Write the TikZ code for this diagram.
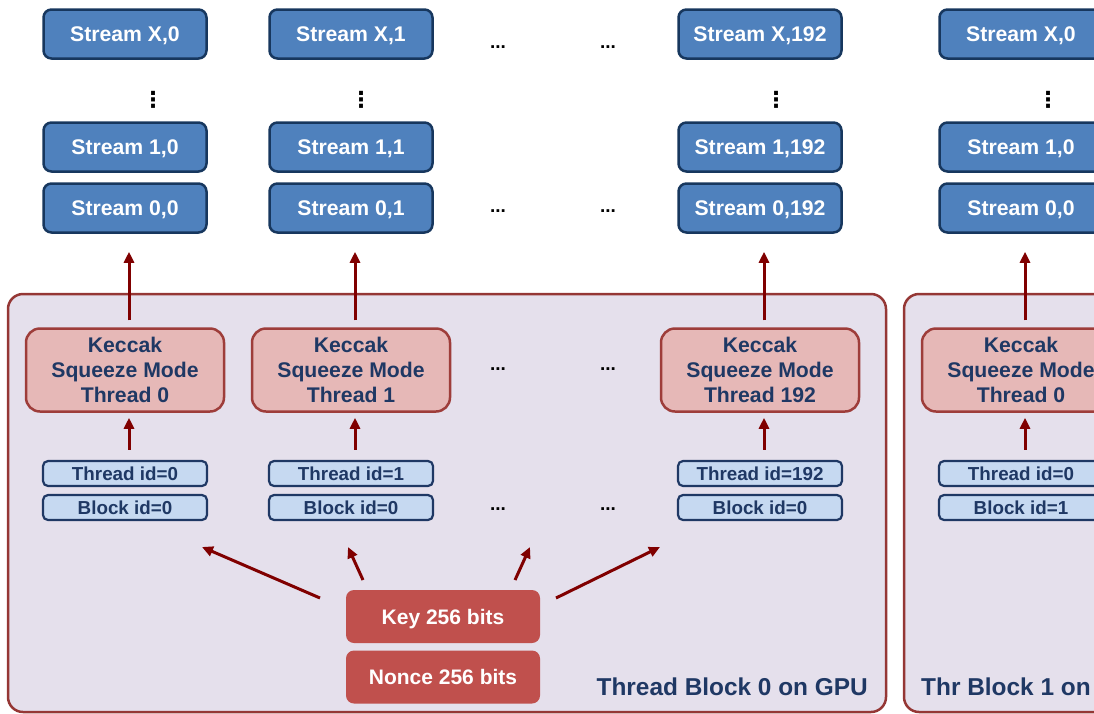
\documentclass[tikz,border=0pt]{standalone}
\usepackage{fontspec}
\setmainfont{Liberation Sans}
\newfontfamily\symfont{DejaVu Sans}
\usetikzlibrary{arrows.meta}
\usetikzlibrary{positioning}
\definecolor{streamfill}{HTML}{4F81BD}
\definecolor{streamline}{HTML}{17375E}
\definecolor{kecfill}{HTML}{E6B8B7}
\definecolor{kecline}{HTML}{9E3D3A}
\definecolor{idfill}{HTML}{C6D9F1}
\definecolor{navy}{HTML}{1F3864}
\definecolor{keyfill}{HTML}{C0504D}
\definecolor{blockfill}{HTML}{E5E0EC}
\definecolor{blockline}{HTML}{953735}
\definecolor{arrred}{HTML}{800000}

\tikzset{
  stream/.style={draw=streamline, line width=2.5pt, fill=streamfill, rounded corners=8pt,
    minimum width=163pt, minimum height=49pt, inner sep=0pt, text=white, text depth=0pt,
    font=\fontsize{21.2}{24}\selectfont\bfseries},
  keccak/.style={draw=kecline, line width=2.5pt, fill=kecfill, rounded corners=14pt,
    minimum width=198pt, minimum height=83pt, inner sep=0pt, text=navy, align=center,
    font=\fontsize{21.2}{25}\selectfont\bfseries},
  idbox/.style={draw=navy, line width=2.2pt, fill=idfill, rounded corners=5pt,
    minimum width=164pt, minimum height=25pt, inner sep=0pt, text=navy, text depth=0pt,
    font=\fontsize{18.8}{20}\selectfont\bfseries},
  keybox/.style={fill=keyfill, rounded corners=8pt, minimum width=194pt, minimum height=53pt,
    inner sep=0pt, text=white, text depth=0pt, font=\fontsize{21}{24}\selectfont\bfseries},
  blockarea/.style={draw=blockline, line width=2.5pt, fill=blockfill, rounded corners=15pt},
  blocklabel/.style={text=navy, inner sep=0pt, font=\fontsize{24.4}{26}\selectfont\bfseries},
  hdots/.style={inner sep=0pt, font=\fontsize{19}{20}\selectfont\bfseries},
  vdots/.style={inner sep=0pt, font=\symfont\fontsize{22}{24}\selectfont\bfseries},
  arr/.style={draw=arrred, line width=3pt, -{Triangle[length=11pt,width=10pt]}}
}

\begin{document}
\begin{tikzpicture}[x=1pt, y=-1pt]
  \useasboundingbox (0,0) rectangle (1094,713);
  \clip (0,0) rectangle (1094,713);

  % thread blocks
  \draw[blockarea] (8,294) rectangle (886,712);
  \draw[blockarea] (904,294) rectangle (1130,712);
  \node[blocklabel, anchor=east] (lbl0) at (868,687) {Thread Block 0 on GPU};
  \node[blocklabel, anchor=west] (lbl1) at (921,687) {Thr Block 1 on};

  % one column per thread
  \foreach \x/\t/\b/\dx [count=\i] in {125/0/0/28, 351/1/0/10, 760/192/0/16, 1021/0/1/27} {
    \node[stream] (sx\i) at (\x,34) {Stream X,\t};
    \node[vdots] (vd\i) at (\x+\dx,100) {⋮};
    \node[stream] (s1\i) at (\x,147) {Stream 1,\t};
    \node[stream] (s0\i) at (\x,208) {Stream 0,\t};
    \node[keccak] (kc\i) at (\x,370) {Keccak\\Squeeze Mode\\Thread \t};
    \node[idbox] (tid\i) at (\x,473.5) {Thread id=\t};
    \node[idbox] (bid\i) at (\x,507.5) {Block id=\b};
    \draw[arr] ([xshift=4pt,yshift=7pt]kc\i.north) -- ([xshift=4pt,yshift=-18pt]s0\i.south);
    \draw[arr] ([xshift=4pt,yshift=10pt]tid\i.north) -- ([xshift=4pt,yshift=-5pt]kc\i.south);
  }

  % skipped threads
  \foreach \x/\y [count=\j] in {498/47, 608/47, 498/211, 608/211, 498/369, 608/369, 498/509, 608/509}
    \node[hdots] (hd\j) at (\x,\y) {...};

  % key and nonce
  \node[keybox] (key) at (443,616.5) {Key 256 bits};
  \node[keybox] (nonce) at (443,677) {Nonce 256 bits};

  \coordinate (k0) at (320,598);
  \coordinate (k1) at (363,580);
  \coordinate (k2) at (515,580);
  \coordinate (k3) at (556,598);
  \coordinate (h0) at (202,547);
  \coordinate (h1) at (348,547);
  \coordinate (h2) at (530,547);
  \coordinate (h3) at (660,547);
  \foreach \n in {0,1,2,3}
    \draw[arr] (k\n) -- (h\n);
\end{tikzpicture}
\end{document}
